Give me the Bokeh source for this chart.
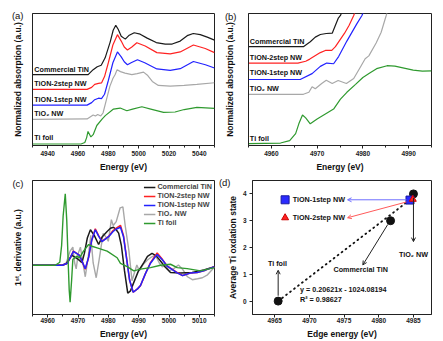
from bokeh.plotting import figure
from bokeh.layouts import column, row
from bokeh.models import Label, Arrow, OpenHead, Legend, LegendItem, FixedTicker, Range1d, LinearAxis
from bokeh.embed import file_html
from bokeh.resources import INLINE

FONT = "Liberation Sans"
C_TIN, C_2S, C_1S, C_TIO2, C_TI = "#1a1a1a", "#ff2222", "#2222ff", "#a8a8a8", "#2f9a2f"

# ---------------- (a) XANES, wide range (offset curves, a.u.) ----------------
a_e_tin = [4930, 4966.7, 4970.0, 4972.7, 4975.3, 4977.9, 4981.2, 4983.2, 4984.9, 4986.5, 4988.5, 4991.2, 4993.8, 4997.1, 5001.0, 5005.6, 5011.6, 5017.5, 5022.1, 5027.4, 5032.0, 5036.0, 5040.6, 5045.2, 5050]
a_y_tin = [72, 72, 77, 80, 81.5, 89, 105, 117, 122, 118, 111, 108, 112, 114.5, 113, 109, 104.5, 103, 103, 106, 111.5, 113.7, 112.5, 110, 107]
a_e_2s = [4930, 4966, 4969, 4971, 4973.5, 4975.5, 4977.5, 4980, 4983, 4986, 4988.5, 4990.5, 4992.6, 4995.5, 4998.8, 5004.3, 5012.0, 5020.8, 5027.4, 5036.1, 5043.9, 5050]
a_y_2s = [57, 57, 59, 62, 63, 63.5, 70, 84, 102, 112.5, 106, 100, 97, 100, 104.3, 101, 94.3, 93, 95, 102, 98.5, 94.3]
a_e_1s = [4930, 4966, 4969, 4971, 4973.5, 4975.5, 4977.5, 4980, 4983, 4986, 4988.5, 4990.5, 4992.6, 4995, 4999.2, 5004, 5012, 5020.8, 5027.4, 5036.1, 5044, 5050]
a_y_1s = [41, 41, 43.5, 46.5, 48, 47.5, 52, 66, 84, 95, 90, 85, 82, 84, 87, 84, 77.7, 76.3, 78, 85.3, 82, 78.7]
a_e_tio2 = [4930, 4966, 4968.5, 4970, 4971.5, 4973, 4975, 4976.5, 4978.5, 4981, 4983, 4984.5, 4985.8, 4988, 4991, 4995.5, 4999, 5003.2, 5006, 5009, 5013, 5020.8, 5030, 5038.4, 5050]
a_y_tio2 = [26.5, 27, 29.5, 31, 30, 31.5, 30, 33, 45, 60, 68, 72, 77, 75, 73.5, 72, 73, 74.5, 71, 65, 61, 60.3, 61, 62, 63.7]
a_e_ti = [4930, 4962, 4964.5, 4965.7, 4966.6, 4968.5, 4970, 4972.4, 4976, 4978, 4983.4, 4987.8, 4992.2, 4996, 5002.1, 5008, 5016.4, 5024, 5030, 5038.4, 5050]
a_y_ti = [1.5, 1.5, 3, 8, 14.3, 8.7, 11, 20.3, 27, 30.3, 37, 38, 35.3, 37, 39.3, 37, 33.7, 34, 36.5, 38.7, 37.7]

# ---------------- (b) XANES, pre-edge zoom ----------------
b_e_tin = [4955, 4967.0, 4968.5, 4969.6, 4970.7, 4972.0, 4973.3, 4974.0, 4974.6, 4975.1, 4976.0]
b_y_tin = [100.3, 100.3, 105.3, 110, 112.7, 113.7, 114, 122, 129, 132, 142]
b_e_2s = [4955, 4965.8, 4967.5, 4968.4, 4970.7, 4971.8, 4973.2, 4974.0, 4976.0, 4977.0, 4978.0, 4978.6]
b_y_2s = [83.7, 83.7, 85.5, 87.7, 94.3, 96.5, 96.5, 100.3, 114, 122, 132, 140]
b_e_1s = [4955, 4966.3, 4968.9, 4970.7, 4972.1, 4973.6, 4974.7, 4976.5, 4978.7, 4979.8, 4980.5]
b_y_1s = [67, 67, 73, 80.3, 83.7, 83, 90.3, 106, 123.7, 132, 140]
b_e_tio2 = [4955, 4967.0, 4968.2, 4968.9, 4969.6, 4971.0, 4972.0, 4973.3, 4974.6, 4976.4, 4978.0, 4979.5, 4980.5, 4981.3, 4982.9, 4984.0, 4985.1, 4985.6]
b_y_tio2 = [52, 52, 54, 59.7, 57.7, 63, 66.3, 63, 66, 63, 68, 80, 88, 91, 104, 115, 132, 140]
b_e_ti = [4955, 4962, 4964, 4965.3, 4966, 4966.8, 4967.5, 4968.5, 4970, 4971.8, 4973.6, 4975.1, 4976.5, 4978.4, 4980, 4981.5, 4983, 4985.3, 4987, 4989, 4991, 4993, 4995]
b_y_ti = [2, 2.5, 5, 12, 22, 31, 28, 22, 27, 32, 37, 47, 54, 62, 69, 73.5, 78, 81, 80.5, 78.5, 76.5, 75.5, 75.7]

# ---------------- (c) first derivative ----------------
c_e_tin = [4955, 4964.8, 4966.1, 4968.0, 4969.1, 4970.1, 4971.3, 4972.1, 4973.1, 4974.1, 4975.4, 4976.8, 4978.0, 4979.6, 4980.7, 4981.7, 4982.6, 4983.4, 4984.3, 4985.3, 4986.4, 4987.3, 4988.4, 4989.9, 4991.7, 4992.9, 4994.4, 4995.8, 4997.2, 4998.8, 5000.5, 5003.8, 5007.6, 5011.5, 5015]
c_y_tin = [50, 50, 51.5, 60, 58, 56, 52.6, 62, 78, 86, 80, 71, 79, 84.3, 87.5, 88.6, 86, 82.6, 70, 45, 21.6, 24, 32.6, 44, 52.6, 59, 62, 59.5, 54.3, 48, 42.6, 42, 42.6, 45.3, 48.6]
c_e_on = [4955, 4964.8, 4966.5, 4968.5, 4970.5, 4972.4, 4973.5, 4974.5, 4975.7, 4976.8, 4977.9, 4980.1, 4981.5, 4982.5, 4984.0, 4985.0, 4986.0, 4987.0, 4988.2, 4989.6, 4990.6, 4992.3, 4993.9, 4996.1, 4997.8, 4999.4, 5002.7, 5004.5, 5007.0, 5009.3, 5012, 5015]
c_y_2s = [50, 50, 52, 64.3, 60, 46, 58, 75, 87, 80, 74.3, 79.3, 85, 87.5, 90.5, 80, 58, 35, 22.6, 26, 29.3, 42, 52.6, 62.5, 56, 49.3, 42.6, 39.5, 42, 42.6, 45, 48.6]
c_y_1s = [50, 50, 52, 64, 60, 46.5, 58, 75, 86, 79.5, 74, 79, 84, 86.5, 88.5, 79, 57, 35, 22.6, 26, 29.5, 42, 52, 61, 55.5, 49, 42.3, 39.5, 42, 42.6, 45, 48.6]
c_e_tio2 = [4955, 4964.8, 4966.1, 4967.4, 4968.3, 4968.9, 4969.4, 4970.1, 4970.8, 4971.4, 4972.4, 4973.4, 4974.2, 4975.0, 4976.0, 4977.0, 4978.3, 4979.3, 4980.0, 4981.0, 4981.6, 4982.6, 4983.9, 4984.8, 4985.6, 4986.8, 4987.8, 4988.6, 4989.4, 4990.2, 4991.6, 4992.9, 4994.2, 4995.5, 4996.8, 4997.8, 4998.8, 5000.1, 5001.5, 5003.1, 5004.4, 5006.1, 5007.7, 5009.4, 5011.0, 5012.7, 5015]
c_y_tio2 = [50, 50, 52.3, 64.3, 68.3, 52.3, 46.3, 62.3, 68.3, 56.3, 38.3, 59.3, 80.3, 52.3, 37.3, 56.3, 82.3, 78.3, 74.3, 96.3, 90.3, 94.3, 108.3, 109.3, 89.3, 64.3, 34.3, 42.3, 50.3, 44.3, 51.3, 55.3, 58.3, 60.3, 52.3, 48.3, 50.3, 44.3, 46.3, 50.3, 46.3, 38.3, 35.3, 36.3, 37.3, 40.3, 48.3]
c_e_ti = [4955, 4962.5, 4964.0, 4964.6, 4965.1, 4965.8, 4966.3, 4966.8, 4967.1, 4967.4, 4967.9, 4968.3, 4969.7, 4970.5, 4971.8, 4973.5, 4974.6, 4976.3, 4979.6, 4982.9, 4984.0, 4986.2, 4988.4, 4990.6, 4993.9, 4997.2, 5000.5, 5002.7, 5006.0, 5010.4, 5015]
c_y_ti = [50, 50, 53, 70, 100, 122.6, 95, 50, 25, 12.6, 35, 56, 59.3, 57.5, 64.3, 71, 69.3, 67.6, 64.3, 57.6, 52, 48.6, 44.3, 46, 47.6, 50, 51, 47.6, 46.6, 44.3, 47.6]

# ---------------- (d) edge energy vs oxidation state ----------------
ref_edge = [4965.5, 4981.7, 4985.0]
ref_ox = [0, 3, 4]
tion1_edge = [4984.5]
tion1_ox = [3.77]
tion2_edge = [4984.9]
tion2_ox = [3.8]
fit_x = [4965.5, 4984.6]
fit_y = [0.0, 3.8]
key_x = [4966.5]
key1_y = [3.78]
key2_y = [3.11]

XT_A = [4940, 4960, 4980, 5000, 5020, 5040]
XT_B = [4960, 4970, 4980, 4990]
XT_C = [4960, 4970, 4980, 4990, 5000, 5010]
XT_D = [4965, 4970, 4975, 4980, 4985]
YT_D = [0, 1, 2, 3, 4]


def make_fig(xr, yr, w, h, bl, br, bt, bb):
    p = figure(x_range=Range1d(*xr), y_range=Range1d(*yr), width=w, height=h,
               min_border_left=bl, min_border_right=br, min_border_top=bt, min_border_bottom=bb,
               output_backend="svg", toolbar_location=None)
    p.grid.visible = False
    p.outline_line_color = "#222222"
    p.outline_line_width = 1
    p.outline_line_alpha = 1.0
    p.background_fill_color = "white"
    p.border_fill_color = "white"
    for ax in (p.xaxis[0], p.yaxis[0]):
        ax.axis_line_color = "#222222"
        ax.major_tick_line_color = "#222222"
        ax.minor_tick_line_color = "#222222"
        ax.major_tick_in = 0
        ax.major_tick_out = 3
        ax.minor_tick_in = 0
        ax.minor_tick_out = 2
        ax.axis_label_text_font = FONT
        ax.axis_label_text_font_style = "bold"
        ax.axis_label_text_font_size = "8.5px"
        ax.axis_label_text_color = "#111111"
        ax.major_label_text_font = FONT
        ax.major_label_text_font_style = "bold"
        ax.major_label_text_font_size = "6.5px"
        ax.major_label_text_color = "#222222"
        ax.major_label_standoff = 3
        ax.axis_label_standoff = 3
    return p


def xaxis_setup(p, ticks, minor, label, tick_standoff, label_standoff):
    ax = p.xaxis[0]
    ax.ticker = FixedTicker(ticks=ticks, minor_ticks=minor)
    ax.axis_label = label
    ax.major_label_standoff = tick_standoff
    ax.axis_label_standoff = label_standoff


def tag_yaxis(p, label, tag, tag_at, tag_standoff, label_standoff):
    # y axis with no ticks: the panel tag is drawn as the only tick label
    ax = p.yaxis[0]
    ax.ticker = FixedTicker(ticks=[tag_at])
    ax.major_label_overrides = {tag_at: tag}
    ax.major_tick_line_color = None
    ax.major_tick_out = 0
    ax.minor_tick_out = 0
    ax.major_label_text_font_size = "9.5px"
    ax.major_label_text_font_style = "normal"
    ax.major_label_text_color = "#111111"
    ax.major_label_standoff = tag_standoff
    ax.axis_label = label
    ax.axis_label_standoff = label_standoff


def text(p, x, y, s, size="7.2px", align="left", baseline="bottom"):
    p.add_layout(Label(x=x, y=y, text=s, text_font=FONT, text_font_size=size,
                       text_font_style="bold", text_align=align,
                       text_baseline=baseline, text_color="#111111"))


# ----- panel a -----
pa = make_fig((4930, 5050), (0, 134), 221, 174, 32, 7, 13, 27)
xaxis_setup(pa, XT_A, [4930, 4950, 4970, 4990, 5010, 5030, 5050], "Energy (eV)", 2, 3)
tag_yaxis(pa, "Normalized absorption (a.u.)", "(a)", 132, 9, -14)
for xs, ys, c in [(a_e_ti, a_y_ti, C_TI), (a_e_tio2, a_y_tio2, C_TIO2), (a_e_1s, a_y_1s, C_1S),
                  (a_e_2s, a_y_2s, C_2S), (a_e_tin, a_y_tin, C_TIN)]:
    pa.line(xs, ys, line_color=c, line_width=1.2)
for s, y in [("Commercial TiN", 73), ("TiON-2step NW", 58), ("TiON-1step NW", 42.3),
             ("TiO\u2082 NW", 27.7), ("Ti foil", 3.5)]:
    text(pa, 4931.2, y, s)

# ----- panel b -----
pb = make_fig((4955, 4995), (0, 134), 222, 174, 27, 12, 13, 27)
xaxis_setup(pb, XT_B, [4955, 4965, 4975, 4985, 4995], "Energy (eV)", 2, 3)
tag_yaxis(pb, "Normalized absorption (a.u.)", "(b)", 130.5, 12, -13)
for xs, ys, c in [(b_e_ti, b_y_ti, C_TI), (b_e_tio2, b_y_tio2, C_TIO2), (b_e_1s, b_y_1s, C_1S),
                  (b_e_2s, b_y_2s, C_2S), (b_e_tin, b_y_tin, C_TIN)]:
    pb.line(xs, ys, line_color=c, line_width=1.2)
for s, y in [("Commercial TiN", 101), ("TiON-2step NW", 85), ("TiON-1step NW", 69.7),
             ("TiO\u2082 NW", 53.7), ("Ti foil", 3)]:
    text(pb, 4955.3, y, s)

# ----- panel c -----
pc = make_fig((4955, 5015), (0, 136), 215, 167, 32, 1, 4, 27)
xaxis_setup(pc, XT_C, [4955, 4965, 4975, 4985, 4995, 5005, 5015], "Energy (eV)", 0, 3)
tag_yaxis(pc, "1\u02e2\u1d57. derivative (a.u.)", "(c)", 133, 9, -14)
r_tio2 = pc.line(c_e_tio2, c_y_tio2, line_color=C_TIO2, line_width=1.4)
r_tin = pc.line(c_e_tin, c_y_tin, line_color=C_TIN, line_width=1.5)
r_2s = pc.line(c_e_on, c_y_2s, line_color=C_2S, line_width=1.5)
r_1s = pc.line(c_e_on, c_y_1s, line_color=C_1S, line_width=1.5)
r_ti = pc.line(c_e_ti, c_y_ti, line_color=C_TI, line_width=1.4)
leg = Legend(items=[LegendItem(label="Commercial TiN", renderers=[r_tin]),
                    LegendItem(label="TiON-2step NW", renderers=[r_2s]),
                    LegendItem(label="TiON-1step NW", renderers=[r_1s]),
                    LegendItem(label="TiO\u2082 NW", renderers=[r_tio2]),
                    LegendItem(label="Ti foil", renderers=[r_ti])],
             location="top_right", border_line_color=None, background_fill_alpha=0,
             label_text_font=FONT, label_text_font_size="7.2px", label_text_font_style="bold",
             glyph_width=12, glyph_height=8, label_height=8, label_standoff=2,
             spacing=0, padding=1, margin=2)
pc.add_layout(leg)

# ----- panel d -----
pd = make_fig((4961.8, 4987.6), (-0.5, 4.5), 228, 167, 34, 12, 6, 27)
xaxis_setup(pd, XT_D, [], "Edge energy (eV)", 0, 3)
pd.yaxis[0].ticker = FixedTicker(ticks=YT_D)
pd.yaxis[0].major_label_standoff = 3
pd.yaxis[0].axis_label = "Average Ti oxdation state"
pd.yaxis[0].axis_label_standoff = 2
# outer left axis: carries only the panel tag
tag_ax = LinearAxis(ticker=FixedTicker(ticks=[4.43]), major_label_overrides={4.43: "(d)"},
                    axis_line_color=None, major_tick_line_color=None, minor_tick_line_color=None,
                    major_tick_in=0, major_tick_out=0, minor_tick_in=0, minor_tick_out=0,
                    major_label_standoff=-6,
                    major_label_text_font=FONT, major_label_text_font_size="9.5px",
                    major_label_text_color="#111111")
pd.add_layout(tag_ax, "left")
pd.line(fit_x, fit_y, line_color="#111111", line_width=1.8, line_dash="1 4", line_cap="round")
for (xs, ys, xe, ye), col in [((4984.0, 3.78, 4975.5, 3.78), "#6f6fff"),
                              ((4984.0, 3.70, 4975.5, 3.11), "#ff5a5a"),
                              ((4985.0, 3.85, 4985.0, 2.22), "#222222"),
                              ((4981.3, 2.86, 4977.7, 1.35), "#222222"),
                              ((4965.5, 0.2, 4965.5, 1.15), "#222222")]:
    pd.add_layout(Arrow(x_start=xs, y_start=ys, x_end=xe, y_end=ye, line_color=col, line_width=1,
                        end=OpenHead(size=4, line_color=col, line_width=1)))
pd.scatter(ref_edge, ref_ox, marker="circle", size=8, color="#111111")
pd.scatter(tion1_edge, tion1_ox, marker="square", size=8, fill_color="#2a2aff", line_color="#1a1aa0")
pd.scatter(tion2_edge, tion2_ox, marker="triangle", size=7, fill_color="#ff2222", line_color="#cc0000")
pd.scatter(key_x, key1_y, marker="square", size=8, fill_color="#2a2aff", line_color="#1a1aa0")
pd.scatter(key_x, key2_y, marker="triangle", size=7, fill_color="#ff2222", line_color="#cc0000")
text(pd, 4967.6, 3.78, "TiON-1step NW", baseline="middle")
text(pd, 4967.6, 3.11, "TiON-2step NW", baseline="middle")
text(pd, 4985.0, 1.75, "TiO\u2082 NW", align="center", baseline="middle")
text(pd, 4977.4, 1.18, "Commercial TiN", align="center", baseline="middle")
text(pd, 4965.4, 1.39, "Ti foil", align="center", baseline="middle")
text(pd, 4968.65, 0.42, "y = 0.20621x - 1024.08194", baseline="middle")
text(pd, 4968.65, 0.05, "R\u00b2 = 0.98627", baseline="middle")

layout = column(row(pa, pb), row(pc, pd))
open("out.html", "w").write(file_html(layout, INLINE))
